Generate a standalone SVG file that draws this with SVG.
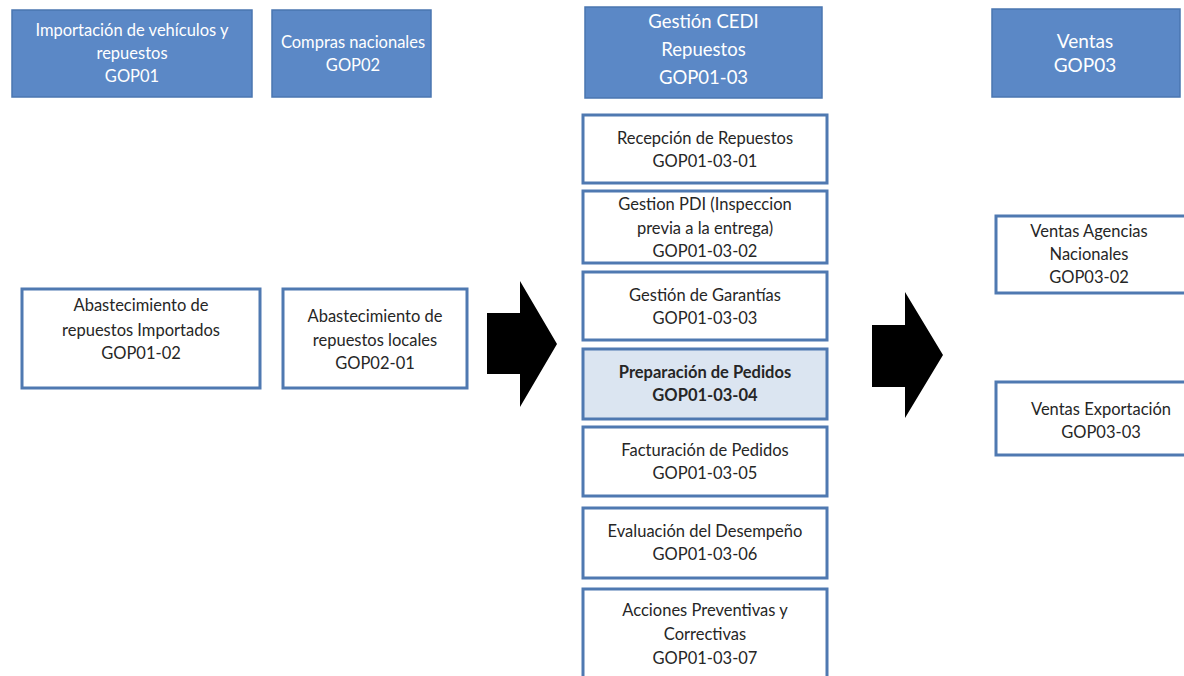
<svg xmlns="http://www.w3.org/2000/svg" width="1184" height="676" viewBox="0 0 1184 676">
  <style>
    .hdr { fill: #5b88c6; stroke: #4a76b0; stroke-width: 1.5; }
    .box { fill: #ffffff; stroke: #4f79b1; stroke-width: 3; }
    .box.sel { fill: #dbe5f1; }
    text { font-family: "Lato", "Open Sans", "Liberation Sans", sans-serif; text-anchor: middle; }
    .ht { fill: #ffffff; font-size: 16.5px; }
    .hb { fill: #ffffff; font-size: 18.5px; }
    .hv { fill: #ffffff; font-size: 19px; }
    .bt { fill: #262626; font-size: 16.5px; }
    .bt.b { font-weight: bold; }
    .arrow { fill: #000000; }
  </style>

  <!-- header row -->
  <g id="gop01">
    <rect class="hdr" x="12" y="10" width="240" height="87"/>
    <text class="ht" x="132" y="36">Importación de vehículos y</text>
    <text class="ht" x="132" y="59">repuestos</text>
    <text class="ht" x="132" y="82">GOP01</text>
  </g>
  <g id="gop02">
    <rect class="hdr" x="272" y="10" width="159" height="87"/>
    <text class="ht" x="353" y="48">Compras nacionales</text>
    <text class="ht" x="353" y="71">GOP02</text>
  </g>
  <g id="gop01-03">
    <rect class="hdr" x="585" y="7" width="237" height="91"/>
    <text class="hb" x="703.5" y="28">Gestión CEDI</text>
    <text class="hb" x="703.5" y="56">Repuestos</text>
    <text class="hb" x="703.5" y="84">GOP01-03</text>
  </g>
  <g id="gop03">
    <rect class="hdr" x="992" y="9" width="188" height="88"/>
    <text class="hv" x="1085" y="48">Ventas</text>
    <text class="hv" x="1085" y="72">GOP03</text>
  </g>

  <!-- supply -->
  <g id="gop01-02">
    <rect class="box" x="22" y="289" width="238" height="99"/>
    <text class="bt" x="141" y="311">Abastecimiento de</text>
    <text class="bt" x="141" y="336">repuestos Importados</text>
    <text class="bt" x="141" y="359">GOP01-02</text>
  </g>
  <g id="gop02-01">
    <rect class="box" x="283" y="289" width="184" height="99"/>
    <text class="bt" x="375" y="322">Abastecimiento de</text>
    <text class="bt" x="375" y="346">repuestos locales</text>
    <text class="bt" x="375" y="369">GOP02-01</text>
  </g>

  <!-- CEDI sub-processes -->
  <g id="gop01-03-01">
    <rect class="box" x="583" y="115" width="244" height="68"/>
    <text class="bt" x="705" y="144">Recepción de Repuestos</text>
    <text class="bt" x="705" y="167">GOP01-03-01</text>
  </g>
  <g id="gop01-03-02">
    <rect class="box" x="583" y="191" width="244" height="72"/>
    <text class="bt" x="705" y="210">Gestion PDI (Inspeccion</text>
    <text class="bt" x="705" y="234">previa a la entrega)</text>
    <text class="bt" x="705" y="257">GOP01-03-02</text>
  </g>
  <g id="gop01-03-03">
    <rect class="box" x="583" y="272" width="244" height="68"/>
    <text class="bt" x="705" y="301">Gestión de Garantías</text>
    <text class="bt" x="705" y="324">GOP01-03-03</text>
  </g>
  <g id="gop01-03-04">
    <rect class="box sel" x="583" y="349" width="244" height="70"/>
    <text class="bt b" x="705" y="378">Preparación de Pedidos</text>
    <text class="bt b" x="705" y="401">GOP01-03-04</text>
  </g>
  <g id="gop01-03-05">
    <rect class="box" x="583" y="427" width="244" height="69"/>
    <text class="bt" x="705" y="456">Facturación de Pedidos</text>
    <text class="bt" x="705" y="479">GOP01-03-05</text>
  </g>
  <g id="gop01-03-06">
    <rect class="box" x="583" y="508" width="244" height="70"/>
    <text class="bt" x="705" y="537">Evaluación del Desempeño</text>
    <text class="bt" x="705" y="560">GOP01-03-06</text>
  </g>
  <g id="gop01-03-07">
    <rect class="box" x="583" y="589" width="244" height="95"/>
    <text class="bt" x="705" y="616">Acciones Preventivas y</text>
    <text class="bt" x="705" y="640">Correctivas</text>
    <text class="bt" x="705" y="664">GOP01-03-07</text>
  </g>

  <!-- sales -->
  <g id="gop03-02">
    <rect class="box" x="996" y="216" width="196" height="77"/>
    <text class="bt" x="1089" y="237">Ventas Agencias</text>
    <text class="bt" x="1089" y="260">Nacionales</text>
    <text class="bt" x="1089" y="283">GOP03-02</text>
  </g>
  <g id="gop03-03">
    <rect class="box" x="996" y="382" width="196" height="73"/>
    <text class="bt" x="1101" y="415">Ventas Exportación</text>
    <text class="bt" x="1101" y="438">GOP03-03</text>
  </g>

  <!-- connectors -->
  <g id="connectors">
    <polygon class="arrow" points="487,313 520,313 520,281 557,344 520,407 520,374 487,374"/>
    <polygon class="arrow" points="872,325 905,325 905,292 943,355 905,418 905,387 872,387"/>
  </g>
</svg>
